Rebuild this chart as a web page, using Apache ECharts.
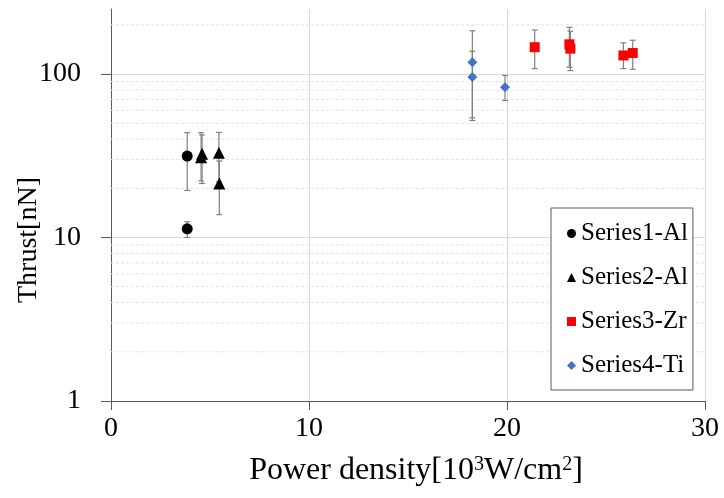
<!DOCTYPE html>
<html><head><meta charset="utf-8">
<script src="https://cdn.jsdelivr.net/npm/echarts@6/dist/echarts.min.js"></script>
<style>html,body{margin:0;padding:0;background:#fff}#c{width:724px;height:498px}</style>
</head><body><div id="c"></div>
<script>
// Data
const s1X = [3.85, 3.85];
const s1Y = [31.5, 11.3];
const s1Lo = [19.4, 10.0];
const s1Hi = [43.8, 12.5];

const s2X = [4.55, 4.6, 5.45, 5.47];
const s2Y = [31, 32.5, 33, 21.4];
const s2Lo = [22.2, 21.4, 22, 13.8];
const s2Hi = [43.8, 42.4, 44, 29.4];

const s3X = [21.4, 23.15, 23.2, 25.88, 26.35];
const s3Y = [146, 152, 143, 130, 134.5];
const s3Lo = [108, 110, 105, 108, 107];
const s3Hi = [186, 193, 183, 155, 161];

const s4X = [18.25, 18.25, 19.9];
const s4Y = [118, 96, 83];
const s4Lo = [52, 54, 69];
const s4Hi = [184, 138, 98];

const xTicks = [0, 10, 20, 30];
const yTicks = [1, 10, 100];
const names = ['Series1-Al', 'Series2-Al', 'Series3-Zr', 'Series4-Ti'];

const XMIN = 0, XMAX = 30, YMIN = 1, YMAX = 250;
const minorVals = [];
[1, 10, 100].forEach(d => { for (let k = 2; k <= 9; k++) { if (d * k < YMAX) minorVals.push(d * k); } });

const FONT = '"Liberation Serif", "Times New Roman", serif';

function pts(xs, ys) { return xs.map((x, i) => [x, ys[i]]); }
function errs(xs, lo, hi) { return xs.map((x, i) => [x, lo[i], hi[i]]); }

function errRender(params, api) {
  const x = api.value(0);
  const a = api.coord([x, api.value(1)]);
  const b = api.coord([x, api.value(2)]);
  const w = 3;
  const st = { stroke: '#808080', lineWidth: 1.2 };
  return { type: 'group', children: [
    { type: 'line', shape: { x1: a[0], y1: a[1], x2: b[0], y2: b[1] }, style: st },
    { type: 'line', shape: { x1: a[0] - w, y1: a[1], x2: a[0] + w, y2: a[1] }, style: st },
    { type: 'line', shape: { x1: b[0] - w, y1: b[1], x2: b[0] + w, y2: b[1] }, style: st }
  ]};
}
function minorRender(params, api) {
  const v = api.value(0);
  const a = api.coord([XMIN, v]);
  const b = api.coord([XMAX, v]);
  return { type: 'line', shape: { x1: a[0], y1: a[1], x2: b[0], y2: b[1] },
    style: { stroke: '#e3e3e3', lineWidth: 1, lineDash: [3, 2] } };
}

function errSeries(xs, lo, hi) {
  return { type: 'custom', renderItem: errRender, data: errs(xs, lo, hi),
    encode: { x: 0, y: [1, 2] }, z: 3, silent: true };
}

const chart = echarts.init(document.getElementById('c'), null, { renderer: 'canvas' });
chart.setOption({
  animation: false,
  backgroundColor: '#fff',
  textStyle: { fontFamily: FONT },
  grid: { left: 111, right: 19, top: 9, bottom: 97, containLabel: false, outerBoundsMode: 'none' },
  legend: {
    data: [
      { name: names[0], icon: 'circle' },
      { name: names[1], icon: 'triangle' },
      { name: names[2], icon: 'rect' },
      { name: names[3], icon: 'diamond' }
    ],
    orient: 'vertical', left: 551, top: 208,
    itemWidth: 9, itemHeight: 9, itemGap: 19,
    padding: [13, 5, 12, 16],
    borderColor: '#595959', borderWidth: 1, backgroundColor: '#fff',
    textStyle: { fontFamily: FONT, fontSize: 25, color: '#000' }
  },
  xAxis: {
    type: 'value', min: XMIN, max: XMAX, interval: 10,
    name: 'Power density[10{s|3}W/cm{s|2}]', nameLocation: 'middle', nameGap: 54,
    nameTextStyle: { fontFamily: FONT, fontSize: 32, color: '#000', padding: [0, 0, 0, 16],
      rich: { s: { fontFamily: FONT, fontSize: 20, color: '#000', verticalAlign: 'top', padding: [0, 0, 12, 0] } } },
    axisLine: { lineStyle: { color: '#595959', width: 1 } },
    axisTick: { show: true, length: 9, lineStyle: { color: '#595959' } },
    axisLabel: { fontFamily: FONT, fontSize: 28, color: '#000', margin: 14 },
    splitLine: { show: true, lineStyle: { color: '#d9d9d9', width: 1 } }
  },
  yAxis: {
    type: 'log', logBase: 10, min: YMIN, max: YMAX,
    name: 'Thrust[nN]', nameLocation: 'middle', nameGap: 68, nameMoveOverlap: false,
    nameTextStyle: { fontFamily: FONT, fontSize: 28, color: '#000', padding: [0, 70, 0, 0] },
    axisLine: { show: true, lineStyle: { color: '#595959', width: 1 } },
    axisTick: { show: true, length: 10, lineStyle: { color: '#595959' }, customValues: yTicks },
    axisLabel: { fontFamily: FONT, fontSize: 28, color: '#000', margin: 30, customValues: yTicks,
      formatter: v => (yTicks.indexOf(Math.round(v)) >= 0 ? String(Math.round(v)) : '') },
    splitLine: { show: true, lineStyle: { color: '#d9d9d9', width: 1 } }
  },
  series: [
    { type: 'custom', renderItem: minorRender, data: minorVals.map(v => [v]), encode: { y: 0 }, z: 1, silent: true },
    errSeries(s1X, s1Lo, s1Hi),
    errSeries(s2X, s2Lo, s2Hi),
    errSeries(s3X, s3Lo, s3Hi),
    errSeries(s4X, s4Lo, s4Hi),
    { name: names[0], type: 'scatter', symbol: 'circle', symbolSize: 11, data: pts(s1X, s1Y), itemStyle: { color: '#000', opacity: 1 }, z: 5 },
    { name: names[1], type: 'scatter', symbol: 'triangle', symbolSize: 12, data: pts(s2X, s2Y), itemStyle: { color: '#000', opacity: 1 }, z: 5 },
    { name: names[2], type: 'scatter', symbol: 'rect', symbolSize: 10, data: pts(s3X, s3Y), itemStyle: { color: '#ff0000', opacity: 1 }, z: 5 },
    { name: names[3], type: 'scatter', symbol: 'diamond', symbolSize: 10, data: pts(s4X, s4Y), itemStyle: { color: '#4472c4', opacity: 1 }, z: 5 }
  ]
});
</script>
</body></html>
